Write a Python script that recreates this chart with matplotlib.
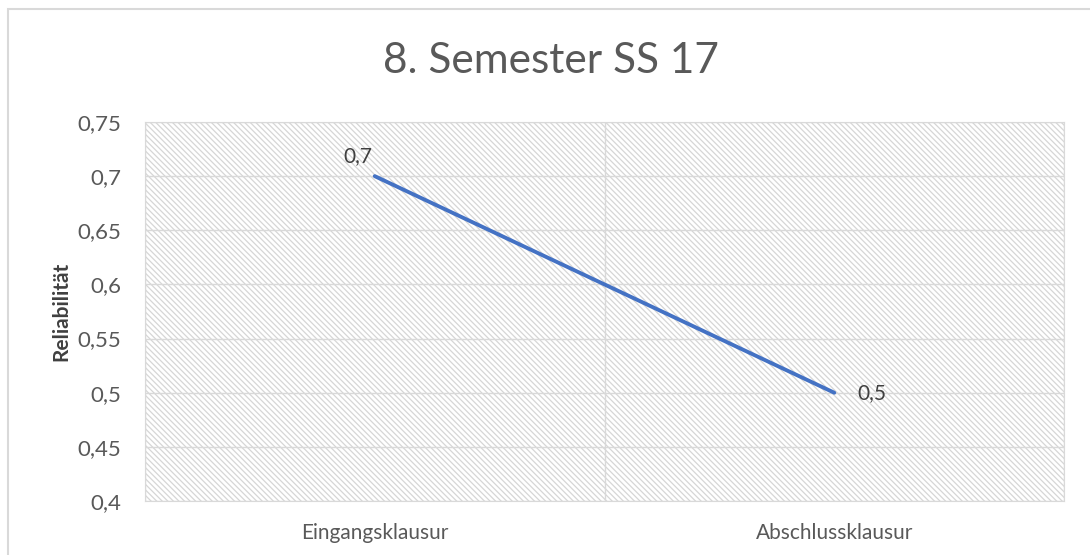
import matplotlib.pyplot as plt
from matplotlib.patches import Rectangle
from matplotlib.ticker import FuncFormatter, MultipleLocator

categories = ["Eingangsklausur", "Abschlussklausur"]
values = [0.7, 0.5]
title = "8. Semester SS 17"
ylabel = "Reliabilität"

plt.rcParams["font.family"] = ["Lato", "DejaVu Sans"]
plt.rcParams["hatch.color"] = "#d6d6d6"
plt.rcParams["hatch.linewidth"] = 0.9

fig = plt.figure(figsize=(10.9, 5.55), dpi=100)
ax = fig.add_axes([145 / 1090, 54 / 555, 919 / 1090, 379 / 555])

# outer chart border (cut off at right/bottom like the reference)
fig.patches.append(Rectangle((8 / 1090, -0.1), 1.2, (555 - 9) / 555 + 0.1,
                             transform=fig.transFigure, fill=False,
                             edgecolor="#d9d9d9", linewidth=1.5))

ax.patch.set_facecolor("white")
ax.patch.set_hatch("\\" * 6)
ax.patch.set_edgecolor("#d6d6d6")

x = list(range(len(categories)))
ax.plot(x, values, color="#4472C4", linewidth=2.8, solid_capstyle="round", zorder=3)

def fmt(v):
    return f"{round(v, 2):g}".replace(".", ",")

ax.annotate(fmt(values[0]), (x[0], values[0]),
            xytext=(-1.5, 10), textcoords="offset points", ha="right", va="baseline",
            fontsize=15, color="#404040")
ax.annotate(fmt(values[1]), (x[1], values[1]),
            xytext=(16.5, 0), textcoords="offset points", ha="left", va="center",
            fontsize=15, color="#404040")

ax.set_xlim(-0.5, len(categories) - 0.5)
ax.set_ylim(0.4, 0.75)
ax.yaxis.set_major_locator(MultipleLocator(0.05))
ax.yaxis.set_major_formatter(FuncFormatter(lambda v, p: fmt(v)))
ax.set_xticks(x)
ax.set_xticklabels(categories)
ax.set_xticks([-0.5, 0.5, 1.5], minor=True)

ax.grid(True, axis="y", which="major", color="#d9d9d9", linewidth=1)
ax.grid(True, axis="x", which="minor", color="#d9d9d9", linewidth=1)
ax.set_axisbelow(True)
ax.tick_params(axis="both", which="both", length=0, labelcolor="#595959")
ax.tick_params(axis="y", labelsize=16, pad=17)
ax.tick_params(axis="x", labelsize=15, pad=16)
for s in ax.spines.values():
    s.set_color("#d9d9d9")

ax.set_ylabel(ylabel, fontsize=15, fontweight="bold", color="#404040")
ax.yaxis.label.set_va("center")
ax.yaxis.set_label_coords((61 - 145) / 919, 0.5)

fig.text(551 / 1090, 1 - 73 / 555, title, ha="center", va="baseline",
         fontsize=30.5, color="#595959")

fig.savefig("out.png", dpi=100)
